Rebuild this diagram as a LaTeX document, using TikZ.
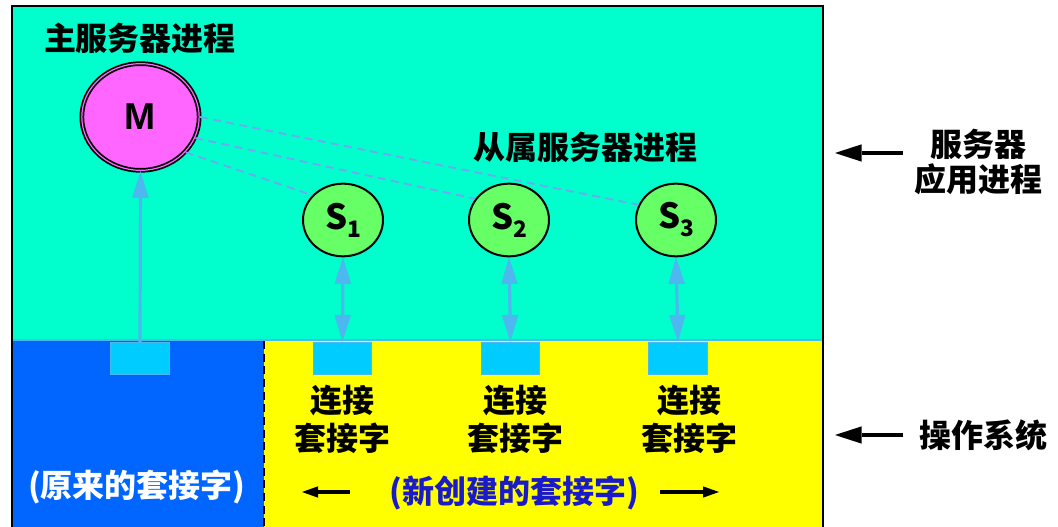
\documentclass[tikz,border=0pt]{standalone}
\usepackage{fontspec}
\newfontfamily\cjk{Noto Sans CJK SC}
\setmainfont{Liberation Sans}
\usetikzlibrary{arrows.meta,shapes.geometric}
\definecolor{topc}{HTML}{00FFCC}
\definecolor{botblue}{HTML}{0066FF}
\definecolor{botyel}{HTML}{FFFF00}
\definecolor{sqc}{HTML}{00CCFF}
\definecolor{arrc}{HTML}{4DB8F0}
\definecolor{magc}{HTML}{FF66FF}
\definecolor{grc}{HTML}{66FF66}
\definecolor{dashc}{HTML}{6FA8F0}
\definecolor{newc}{HTML}{1A1AC8}
\tikzset{
  btip/.tip={Triangle[length=20pt,width=12.5pt,line width=0pt]},
  lbl/.style={font=\cjk\bfseries\fontsize{24pt}{28.5pt}\selectfont, align=center, inner sep=0pt},
  sq/.style={draw=arrc, fill=sqc, line width=0.6pt, minimum width=44pt, minimum height=24pt, inner sep=0pt},
  snode/.style={ellipse, draw=black, line width=1.5pt, fill=grc, minimum width=60pt, minimum height=54.5pt, inner sep=0pt, font=\cjk\bfseries\fontsize{26pt}{30pt}\selectfont},
  barrow/.style={draw=arrc, line width=2.4pt},
  karrow/.style={draw=black, line width=2.6pt, -{Triangle[length=20pt,width=13pt,line width=0pt]}},
  kkarrow/.style={draw=black, line width=3pt, -{Triangle[length=12pt,width=8.5pt,line width=0pt]}},
  dline/.style={draw=dashc, line width=1.4pt, dash pattern=on 6pt off 4pt}
}
\begin{document}
\begin{tikzpicture}[x=0.75pt,y=-0.75pt]
\useasboundingbox (0,0) rectangle (1058,527);
% regions
\fill[topc] (12,6) rectangle (823,340);
\fill[botblue] (12,340) rectangle (264,530);
\fill[botyel] (264,340) rectangle (823,530);
\draw[arrc, line width=0.8pt] (12,340) -- (823,340);
\draw[black, line width=1.5pt] (12,530) -- (12,6) -- (823,6) -- (823,530);
\draw[black, line width=1.6pt, dash pattern=on 6pt off 3.5pt] (264,341) -- (264,530);
% sockets
\node[sq] (sq0) at (140,358.5) {};
\node[sq] (sq1) at (342.5,358) {};
\node[sq] (sq2) at (510.5,358) {};
\node[sq] (sq3) at (678,358) {};
% master
\node[ellipse, draw=black, double=magc, double distance=0.9pt, line width=1.3pt, fill=magc,
      minimum width=88pt, minimum height=80pt, inner sep=0pt,
      font=\bfseries\fontsize{28pt}{32pt}\selectfont] (M) at (140.5,117) {M};
% slaves
\node[snode] (S1) at (343,220) {S\raisebox{-6pt}{\fontsize{17pt}{19pt}\selectfont 1}};
\node[snode] (S2) at (509,220) {S\raisebox{-6pt}{\fontsize{17pt}{19pt}\selectfont 2}};
\node[snode] (S3) at (676,220) {S\raisebox{-6pt}{\fontsize{17pt}{19pt}\selectfont 3}};
% dashed links
\draw[dline] (M.0) -- (S3.158);
\draw[dline] (M.-21) -- (S2.148);
\draw[dline] (M.-38) -- (S1.141);
% blue arrows
\draw[barrow, -{btip}] (sq0.north) -- (M.south);
\draw[barrow, {btip}-{btip}] (S1.south) -- (sq1.north);
\draw[barrow, {btip}-{btip}] (S2.south) -- (sq2.north);
\draw[barrow, {btip}-{btip}] (S3.south) -- (sq3.north);
% labels
\node[lbl] (tm) at (140,38) {主服务器进程};
\node[lbl] (ts) at (585,147) {从属服务器进程};
\node[lbl] (c1) at (342,419) {连接\\套接字};
\node[lbl] (c2) at (515,419) {连接\\套接字};
\node[lbl] (c3) at (689,419) {连接\\套接字};
\node[lbl, text=white] (old) at (137,487) {(原来的套接字)};
\node[lbl, text=newc] (new) at (514,493) {(新创建的套接字)};
\coordinate (la) at (350,492);
\coordinate (lb) at (302,492);
\coordinate (ra) at (660,492);
\coordinate (rb) at (719,492);
\draw[kkarrow] (la) -- (lb);
\draw[kkarrow] (ra) -- (rb);
% right side
\node[lbl, font=\cjk\bfseries\fontsize{24pt}{26.5pt}\selectfont] (app) at (978,162) {服务器\\应用进程};
\node[lbl] (os) at (983,435) {操作系统};
\coordinate (a1) at (903,153);
\coordinate (a2) at (835,153);
\coordinate (b1) at (903,435);
\coordinate (b2) at (835,435);
\draw[karrow] (a1) -- (a2);
\draw[karrow] (b1) -- (b2);
\end{tikzpicture}
\end{document}
